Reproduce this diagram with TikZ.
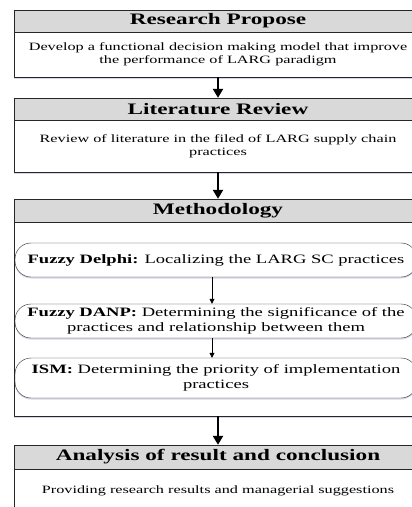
\documentclass[tikz,border=0pt]{standalone}
\usepackage{fontspec}
\setmainfont{Liberation Serif}[FakeStretch=1.45]
\usetikzlibrary{arrows.meta,shadows}
\begin{document}
\begin{tikzpicture}[x=1pt,y=-1pt,line join=round,
	head/.style={draw=black!85,fill=gray!30,minimum width=408pt,minimum height=22pt,inner sep=0pt,font=\fontsize{16}{18}\selectfont\bfseries},
	body/.style={draw=black!85,fill=white,minimum width=408pt,inner sep=0pt,align=center,font=\fontsize{11.2}{13.5}\selectfont,drop shadow={shadow xshift=0pt,shadow yshift=-1.5pt,fill=blue!30!gray!40,opacity=.6}},
	stepbox/.style={draw=black!85,fill=white,rounded corners=16pt,minimum width=402pt,inner sep=0pt,align=center,font=\fontsize{12.8}{15}\selectfont,drop shadow={shadow xshift=0pt,shadow yshift=-1.5pt,fill=blue!30!gray!40,opacity=.6}},
	bigarrow/.style={line width=2.6pt,-{Triangle[width=10pt,length=9pt]}},
	smallarrow/.style={line width=.8pt,-{Triangle[width=5pt,length=5pt]}}]
	\def\xc{218} % centre of the boxes
	\def\xs{216} % centre of the method steps
	\useasboundingbox (0,0) rectangle (412,507);
	\clip (0,0) rectangle (412,507);
	\node[head] (rp) at (\xc,21) {Research Propose};
	\node[body,minimum height=45pt] (rpb) at (\xc,54.5) {Develop a functional decision making model that improve\\the performance of LARG paradigm};
	\node[head] (lr) at (\xc,109) {Literature Review};
	\node[body,minimum height=52pt] (lrb) at (\xc,146) {Review of literature in the filed of LARG supply chain\\practices};
	\node[head,minimum height=23pt] (me) at (\xc,210.5) {Methodology};
	\node[body,minimum height=194pt] (meb) at (\xc,319) {};
	\node[stepbox,minimum height=34pt] (fd) at (\xs,260) {\textbf{Fuzzy Delphi:} Localizing the LARG SC practices};
	\node[stepbox,minimum height=34pt] (fa) at (\xs,321) {\textbf{Fuzzy DANP:} Determining the significance of the\\practices and relationship between them};
	\node[stepbox,minimum height=40pt] (is) at (\xs,378) {\textbf{ISM:} Determining the priority of implementation\\practices};
	\node[head,minimum height=24pt] (an) at (\xc,457) {Analysis of result and conclusion};
	\node[body,minimum height=44pt] (anb) at (\xc,491) {Providing research results and managerial suggestions};
	\draw[bigarrow] (rpb.south) -- (lr.north);
	\draw[bigarrow] (lrb.south) -- (me.north);
	\draw[bigarrow] (meb.south) -- (an.north);
	\draw[smallarrow] ([xshift=-4pt]fd.south) -- ([xshift=-4pt]fa.north);
	\draw[smallarrow] ([xshift=-4pt]fa.south) -- ([xshift=-4pt]is.north);
\end{tikzpicture}
\end{document}
